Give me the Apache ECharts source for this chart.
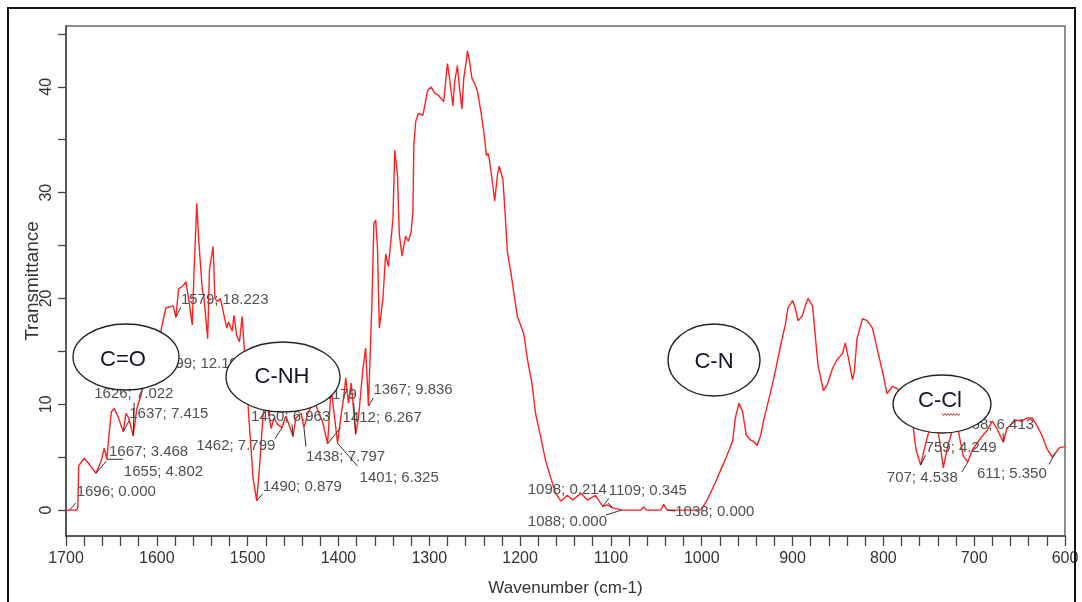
<!DOCTYPE html>
<html>
<head>
<meta charset="utf-8">
<script src="https://cdn.jsdelivr.net/npm/echarts@6/dist/echarts.min.js"></script>
<style>
  html, body { margin: 0; padding: 0; background: #fff; }
  #chart { width: 1082px; height: 602px; }
</style>
</head>
<body>
<div id="chart"></div>
<script>
// ---- data (wavenumber cm-1, transmittance) ----
const spectrum = [
  [1700,0],[1688,0],[1687,0.3],[1686,4.2],[1680,4.9],[1675,4.4],[1667,3.468],[1661,4.7],[1658,5.85],[1655,4.802],
  [1653,6.8],[1650,9.3],[1647,9.6],[1643,8.9],[1637,7.415],[1634,9.15],[1631,8.7],[1626,7.022],[1622,9.6],[1617,11.0],
  [1612,14.8],[1606,15.8],[1602,14.3],[1599,12.193],[1595,17.2],[1590,19.1],[1582,19.3],[1579,18.223],[1576,20.9],[1571,21.2],
  [1568,21.6],[1565,20.0],[1561,17.5],[1559,22.5],[1556,29.0],[1554,25.7],[1550,20.9],[1548,20.0],[1544,16.2],[1542,22.8],
  [1538,24.9],[1536,20.0],[1533,19.7],[1530,20.0],[1526,18.4],[1523,17.2],[1521,17.8],[1517,16.9],[1515,18.4],[1512,16.5],
  [1509,15.9],[1506,18.3],[1504,15.6],[1501,12.5],[1499,9.15],[1494,3.0],[1490,0.879],[1487,4.0],[1483,9.0],[1480,10.6],
  [1477,9.15],[1474,7.7],[1471,8.7],[1467,8.1],[1462,7.799],[1458,8.9],[1455,8.2],[1450,6.963],[1447,8.7],[1441,9.15],
  [1438,7.797],[1433,9.3],[1427,10.3],[1422,9.3],[1417,8.2],[1412,6.267],[1408,11.5],[1405,9.3],[1401,6.325],[1397,9.0],
  [1394,10.8],[1392,12.5],[1389,10.1],[1386,12.0],[1383,9.15],[1381,7.179],[1378,8.7],[1373,13.4],[1370,15.3],[1367,9.836],
  [1363,20.0],[1361,27.1],[1359,27.4],[1357,24.7],[1355,17.2],[1351,20.0],[1348,24.2],[1345,23.0],[1340,27.5],[1338,34.0],
  [1335,31.6],[1333,26.1],[1330,24.0],[1328,25.0],[1326,25.9],[1323,25.4],[1320,26.3],[1318,28.2],[1317,34.4],[1315,36.7],
  [1312,37.5],[1307,37.3],[1305,38.2],[1302,39.6],[1298,40.0],[1294,39.4],[1290,39.2],[1284,38.6],[1282,40.5],[1280,42.2],
  [1278,41.0],[1274,38.2],[1272,40.5],[1269,42.0],[1267,40.1],[1264,37.9],[1262,40.8],[1259,42.6],[1258,43.4],[1256,42.6],
  [1253,40.8],[1250,40.3],[1247,39.6],[1243,37.6],[1240,35.8],[1237,33.5],[1235,33.7],[1234,33.2],[1230,30.7],[1228,29.2],
  [1225,31.6],[1223,32.5],[1219,31.3],[1217,28.8],[1214,24.4],[1210,22.4],[1206,20.0],[1203,18.3],[1200,17.6],[1196,16.7],
  [1192,14.3],[1187,12.0],[1183,9.15],[1177,6.8],[1172,4.7],[1166,3.0],[1161,1.6],[1155,0.85],[1148,1.4],[1142,0.95],
  [1133,1.6],[1126,0.95],[1117,1.4],[1109,0.345],[1104,0.5],[1098,0.214],[1088,0],[1067,0],[1064,0.3],[1061,0],
  [1045,0],[1042,0.55],[1038,0],[1001,0],[994,0.95],[985,2.6],[977,4.2],[972,5.2],[966,6.5],[963,8.7],
  [959,10.1],[955,9.3],[951,7.1],[946,6.6],[943,6.5],[939,6.1],[935,7.1],[932,8.4],[924,11.2],[919,13.1],
  [913,15.6],[908,17.5],[905,19.1],[900,19.8],[897,19.1],[894,17.9],[889,18.4],[886,19.3],[883,20.0],[878,19.3],
  [875,16.5],[872,13.7],[866,11.3],[862,11.8],[856,13.4],[851,14.2],[845,14.8],[842,15.8],[839,14.6],[834,12.3],
  [832,13.1],[829,16.2],[823,18.1],[818,17.9],[812,17.2],[807,15.3],[801,13.1],[796,11.0],[790,11.7],[785,11.5],
  [778,10.6],[773,10.1],[768,8.4],[764,5.7],[759,4.249],[754,6.1],[748,8.0],[744,8.7],[740,7.7],[734,4.0],
  [729,6.1],[721,8.4],[718,7.7],[712,5.1],[707,4.538],[702,5.7],[697,6.3],[691,7.0],[686,7.5],[680,8.4],
  [675,7.7],[668,6.413],[664,7.7],[658,8.2],[653,8.5],[647,8.4],[642,8.7],[636,8.7],[631,8.0],[625,7.0],
  [620,5.8],[614,5.0],[611,5.35],[606,5.9],[600,6.0]
];

// peak annotations
const peakWn  = [1696,1667,1655,1637,1626,1599,1579,1490,1462,1450,1438,1412,1401,1381,1367,1109,1098,1088,1038,759,707,668,611];
const peakVal = [0.000,3.468,4.802,7.415,7.022,12.193,18.223,0.879,7.799,6.963,7.797,6.267,6.325,7.179,9.836,0.345,0.214,0.000,0.000,4.249,4.538,6.413,5.350];

// axis tick labels
const xTickLabels = [1700,1600,1500,1400,1300,1200,1100,1000,900,800,700,600];
const yTickLabels = [0,10,20,30,40];

// functional group tags
const groupTags = ['C=O','C-NH','C-N','C-Cl'];

// ---- layout / style (pixel offsets: label left-middle, leader end) ----
const labelOffsets = [
  [7,-18, 6,-7],[13,-22, 10,-12],[17,13, 16,0],[6,-18, 6,-11],[-39,-42, 1,-33],
  [1,-17, 3,-11],[5,-17, 5,-10],[6,-14, 6,-7],[-86,18, -7,11],[-42,-20, -1,-12],
  [2,29, 2,19],[15,-26, 13,-16],[22,35, 20,23],[-78,-39, -2,-31],[5,-16, 5,-8],
  [6,-16, 6,-8],[-85,-18, -5,-5],[-94,12, -16,5],[8,2, 8,1],[5,-17, 5,-10],
  [-81,16, -6,10],[-40,-17, 0,-9],[-78,20, -6,11]
];
const tagShapes = [
  {cx:126, cy:357, rx:53, ry:33, tx:123, ty:360},
  {cx:283, cy:377, rx:57, ry:35, tx:282, ty:377},
  {cx:714, cy:360, rx:46, ry:36, tx:714, ty:362},
  {cx:942, cy:404, rx:49, ry:29, tx:940, ty:401}
];

const xTicks = [];
for (let v = 600; v <= 1700; v += 20) xTicks.push(v);
const yTicks = [0,5,10,15,20,25,30,35,40,45];

const peakData = peakWn.map((w, i) => [w, peakVal[i]]);

const chart = echarts.init(document.getElementById('chart'), null, {renderer: 'canvas'});

const FONT = '"Liberation Sans", Arial, sans-serif';
const graphics = [];
// outer frame
graphics.push({type:'rect', shape:{x:8, y:8, width:1067, height:600}, style:{fill:'none', stroke:'#111', lineWidth:2}, z:200, silent:true});
tagShapes.forEach((s, i) => {
  graphics.push({type:'ellipse', shape:{cx:s.cx, cy:s.cy, rx:s.rx, ry:s.ry},
    style:{fill:'#fff', stroke:'#222', lineWidth:1.3}, z:150, silent:true});
  graphics.push({type:'text', x:s.tx, y:s.ty, style:{text:groupTags[i], font:'22px ' + FONT,
    fill:'#141428', align:'center', verticalAlign:'middle', textAlign:'center', textVerticalAlign:'middle'}, z:151, silent:true});
});
// spell-check squiggle under "Cl"
const sq = [];
for (let k = 0; k <= 12; k++) sq.push([942 + k * 1.5, 414 + (k % 2 ? 1.5 : -0.5)]);
graphics.push({type:'polyline', shape:{points:sq}, style:{stroke:'#e03030', lineWidth:1, fill:'none'}, z:152, silent:true});

const option = {
  animation: false,
  backgroundColor: '#fff',
  grid: { left: 66, right: 17, top: 26, bottom: 64, show: true, borderColor: '#6a6a6a', borderWidth: 1.5 },
  xAxis: {
    type: 'value', inverse: true, min: 600, max: 1700,
    name: 'Wavenumber (cm-1)', nameLocation: 'middle', nameGap: 44,
    nameTextStyle: { fontSize: 17, color: '#333', fontFamily: FONT },
    axisLine: { show: true, onZero: false, lineStyle: { color: '#444', width: 1.5 } },
    axisTick: { show: true, length: 10, customValues: xTicks, lineStyle: { color: '#444', width: 1.3 } },
    axisLabel: { show: true, customValues: xTickLabels, margin: 15, fontSize: 16, color: '#333',
      fontFamily: FONT, formatter: v => String(v) },
    splitLine: { show: false }
  },
  yAxis: {
    type: 'value', min: -2.45, max: 45.75,
    name: 'Transmittance', nameLocation: 'middle', nameGap: 24, nameRotate: 90, nameMoveOverlap: false,
    nameTextStyle: { fontSize: 19, color: '#333', fontFamily: FONT },
    axisLine: { show: true, onZero: false, lineStyle: { color: '#444', width: 1.5 } },
    axisTick: { show: true, length: 8, customValues: yTicks, lineStyle: { color: '#444', width: 1.3 } },
    axisLabel: { show: true, customValues: yTickLabels, rotate: 90, margin: 11, fontSize: 16, color: '#333',
      fontFamily: FONT, formatter: v => String(v) },
    splitLine: { show: false }
  },
  series: [
    {
      type: 'line', data: spectrum, showSymbol: false, symbol: 'none', z: 2,
      lineStyle: { color: '#ff2020', width: 1.4 }
    },
    {
      type: 'custom', data: peakData, z: 5, silent: true,
      renderItem: function (params, api) {
        const i = params.dataIndex;
        const p = api.coord([api.value(0), api.value(1)]);
        const o = labelOffsets[i];
        const txt = peakWn[i] + '; ' + peakVal[i].toFixed(3);
        return {
          type: 'group',
          children: [
            { type: 'line', shape: { x1: p[0], y1: p[1], x2: p[0] + o[2], y2: p[1] + o[3] },
              style: { stroke: '#333', lineWidth: 1 } },
            { type: 'text', x: p[0] + o[0], y: p[1] + o[1],
              style: { text: txt, fill: '#505050', font: '15px ' + FONT,
                align: 'left', verticalAlign: 'middle', textAlign: 'left', textVerticalAlign: 'middle' } }
          ]
        };
      }
    }
  ],
  graphic: { elements: graphics }
};
chart.setOption(option);
</script>
</body>
</html>
